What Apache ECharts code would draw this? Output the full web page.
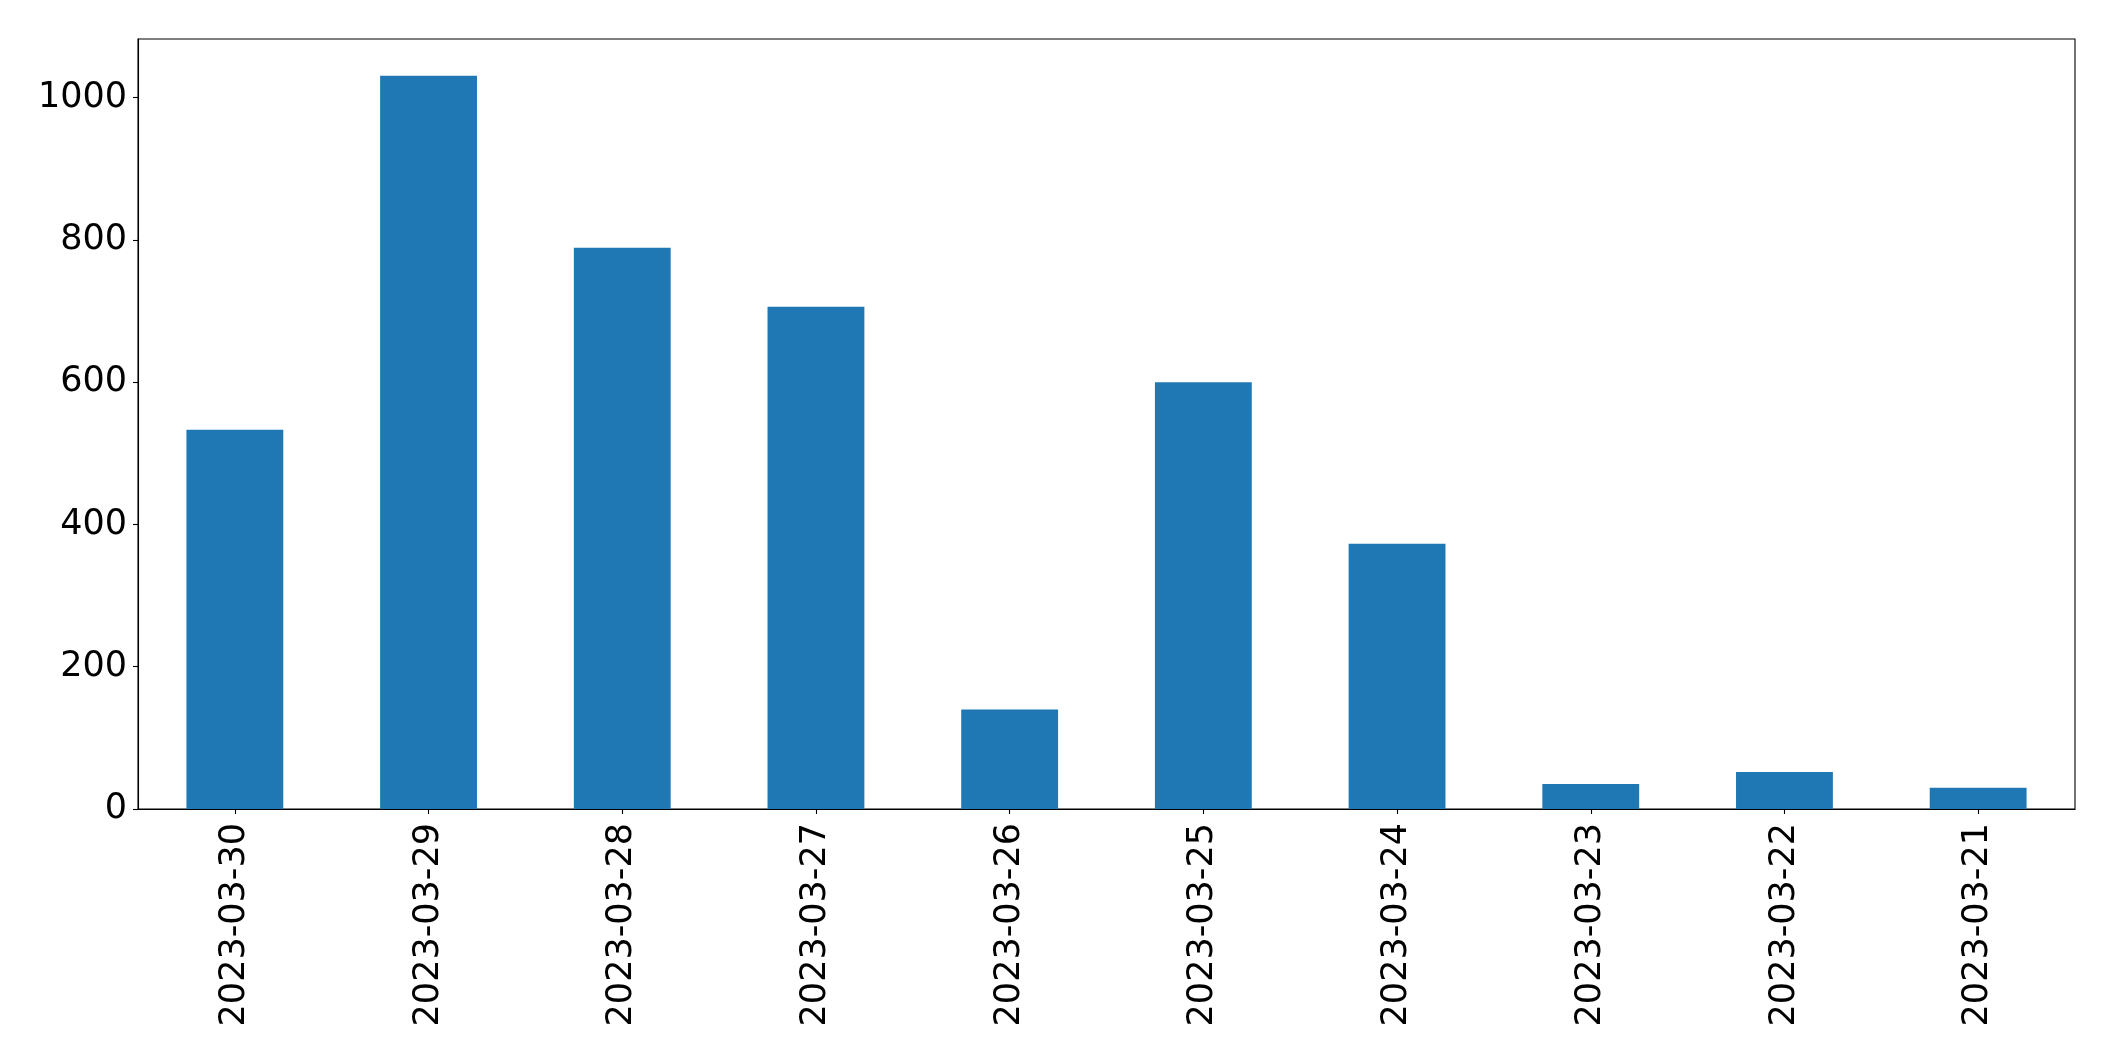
<!DOCTYPE html>
<html>
<head>
<meta charset="utf-8">
<script src="https://cdn.jsdelivr.net/npm/echarts@6/dist/echarts.min.js"></script>
<style>
html,body{margin:0;padding:0;background:#fff;}
#chart{width:2115px;height:1061px;}
</style>
</head>
<body>
<div id="chart"></div>
<script>
const categories = ['2023-03-30','2023-03-29','2023-03-28','2023-03-27','2023-03-26','2023-03-25','2023-03-24','2023-03-23','2023-03-22','2023-03-21'];
const values = [533, 1031, 789, 706, 140, 600, 373, 35, 52, 30];
const yTicks = [0, 200, 400, 600, 800, 1000];

const FONT = 'DejaVu Sans';
const chart = echarts.init(document.getElementById('chart'), null, {renderer: 'canvas'});
chart.setOption({
  animation: false,
  backgroundColor: '#ffffff',
  grid: {
    left: 138, right: 40, top: 39, bottom: 252,
    show: true, borderColor: '#000', borderWidth: 1.1, backgroundColor: 'transparent'
  },
  xAxis: {
    type: 'category',
    data: categories,
    boundaryGap: true,
    axisLine: {show: true, lineStyle: {color: '#000', width: 1.1}},
    axisTick: {show: true, alignWithLabel: true, length: 5, lineStyle: {color: '#000', width: 1.1}},
    axisLabel: {rotate: 90, margin: 14, color: '#000', fontSize: 35, fontFamily: FONT, interval: 0},
    splitLine: {show: false}
  },
  yAxis: {
    type: 'value',
    min: 0,
    max: 1082.5,
    interval: 200,
    axisLine: {show: true, lineStyle: {color: '#000', width: 1.1}},
    axisTick: {show: true, length: 5, lineStyle: {color: '#000', width: 1.1}, customValues: yTicks},
    axisLabel: {margin: 11, color: '#000', fontSize: 35, fontFamily: FONT, customValues: yTicks,
      formatter: function (v) { return String(v); }},
    splitLine: {show: false}
  },
  series: [{
    type: 'bar',
    data: values,
    barWidth: '50%',
    itemStyle: {color: '#1f77b4'}
  }]
});
</script>
</body>
</html>
